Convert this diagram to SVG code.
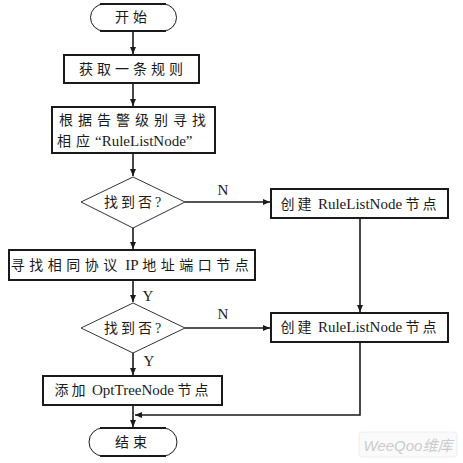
<svg xmlns="http://www.w3.org/2000/svg" width="463" height="463" viewBox="0 0 463 463">
<style>
.box{fill:#fff;stroke:#1a1a1a;stroke-width:2}
.dia{fill:#fff;stroke:#333;stroke-width:1}
.term{fill:#fff;stroke:#1a1a1a}
.ln{fill:none;stroke:#1a1a1a;stroke-width:1.6}
.t{font-family:"Liberation Serif","Noto Sans CJK SC",serif;font-size:14px;fill:#1a1a1a;text-anchor:middle;dominant-baseline:central}
.s{text-anchor:start}
.e{font-size:15px}
.lb{font-family:"Liberation Serif",serif;font-size:15px;fill:#1a1a1a;text-anchor:middle;dominant-baseline:central}
</style>
<defs>
<marker id="a" markerWidth="8" markerHeight="8" refX="7" refY="4" orient="auto" markerUnits="userSpaceOnUse">
<path d="M0,1 L7,4 L0,7 Z" fill="#1a1a1a"/>
</marker>
</defs>
<rect width="463" height="463" fill="#fff"/>
<g id="connectors">
<line class="ln" x1="133" y1="31" x2="133" y2="54" marker-end="url(#a)"/>
<line class="ln" x1="133" y1="83" x2="133" y2="106" marker-end="url(#a)"/>
<line class="ln" x1="133" y1="153" x2="133" y2="176" marker-end="url(#a)"/>
<line class="ln" x1="185" y1="202" x2="270" y2="202" stroke-width="1.1" marker-end="url(#a)"/>
<line class="ln" x1="133" y1="228" x2="133" y2="249" marker-end="url(#a)"/>
<line class="ln" x1="133" y1="280" x2="133" y2="302" marker-end="url(#a)"/>
<line class="ln" x1="185" y1="328" x2="270" y2="328" marker-end="url(#a)"/>
<line class="ln" x1="360" y1="218" x2="360" y2="312" stroke-width="1.2" marker-end="url(#a)"/>
<line class="ln" x1="133" y1="353" x2="133" y2="375" marker-end="url(#a)"/>
<line class="ln" x1="133" y1="405" x2="133" y2="427" marker-end="url(#a)"/>
<polyline class="ln" points="360,342 360,415 135,415" marker-end="url(#a)"/>
<text class="lb" x="223" y="190">N</text>
<text class="lb" x="148" y="296">Y</text>
<text class="lb" x="223" y="314">N</text>
<text class="lb" x="149" y="361">Y</text>
</g>
<g id="start">
<path class="term" stroke-width="1" d="M104,4 A13.5,13.5 0 0 0 104,31 M163,4 A13.5,13.5 0 0 1 163,31"/>
<line class="term" stroke-width="2" x1="100" y1="4" x2="166" y2="4"/>
<line class="term" stroke-width="2" x1="100" y1="31" x2="166" y2="31"/>
<text class="t" x="133" y="17" letter-spacing="4">开始</text>
</g>
<g id="get-rule">
<rect class="box" x="64" y="55" width="135" height="28"/>
<text class="t" x="133" y="69" letter-spacing="4">获取一条规则</text>
</g>
<g id="find-list">
<rect class="box" x="52" y="107" width="163" height="46"/>
<text class="t" x="135" y="120" letter-spacing="5">根据告警级别寻找</text>
<text class="t s" x="57" y="141"><tspan letter-spacing="5">相应</tspan><tspan class="e">“RuleListNode”</tspan></text>
</g>
<g id="found1">
<polygon class="dia" points="133,177 185,202 133,228 81,202"/>
<text class="t" x="134" y="202" letter-spacing="3">找到否?</text>
</g>
<g id="create1">
<rect class="box" x="271" y="189" width="177" height="29"/>
<text class="t" x="360" y="204"><tspan letter-spacing="3">创建</tspan> <tspan class="e">RuleListNode</tspan> <tspan letter-spacing="3">节点</tspan></text>
</g>
<g id="find-proto">
<rect class="box" x="9" y="250" width="246" height="30"/>
<text class="t" x="132" y="265"><tspan letter-spacing="4.5">寻找相同协议</tspan> <tspan class="e">IP</tspan> <tspan letter-spacing="4.5">地址端口节点</tspan></text>
</g>
<g id="found2">
<polygon class="dia" points="133,303 185,328 133,353 81,328"/>
<text class="t" x="134" y="328" letter-spacing="3">找到否?</text>
</g>
<g id="create2">
<rect class="box" x="271" y="313" width="177" height="29"/>
<text class="t" x="360" y="327"><tspan letter-spacing="3">创建</tspan> <tspan class="e">RuleListNode</tspan> <tspan letter-spacing="3">节点</tspan></text>
</g>
<g id="add-opt">
<rect class="box" x="43" y="376" width="179" height="29"/>
<text class="t" x="133" y="390"><tspan letter-spacing="3">添加</tspan> <tspan class="e">OptTreeNode</tspan> <tspan letter-spacing="3">节点</tspan></text>
</g>
<g id="end">
<path class="term" stroke-width="1" d="M103,428 A14,14 0 0 0 103,456 M163,428 A14,14 0 0 1 163,456"/>
<line class="term" stroke-width="2" x1="100" y1="428" x2="166" y2="428"/>
<line class="term" stroke-width="2" x1="100" y1="456" x2="166" y2="456"/>
<text class="t" x="133" y="442" letter-spacing="4">结束</text>
</g>
<g id="watermark">
<rect x="359" y="432" width="98" height="25" rx="3" fill="#fafafa" stroke="#eee"/>
<text x="408" y="445" font-family="'Liberation Sans','Noto Sans CJK SC',sans-serif" font-size="15" font-style="italic" fill="#cccccc" text-anchor="middle" dominant-baseline="central">WeeQoo维库</text>
</g>
</svg>
